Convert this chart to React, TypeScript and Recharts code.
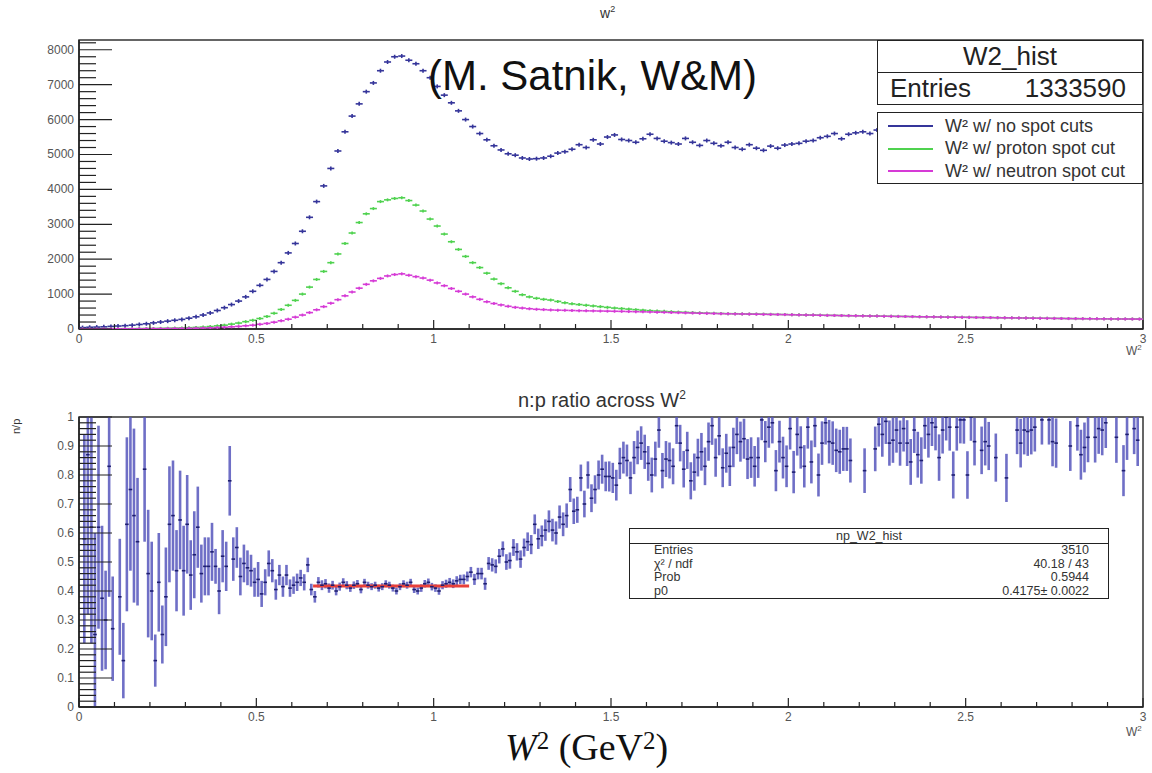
import React from "react";
import {
  ScatterChart,
  Scatter,
  XAxis,
  YAxis,
  ErrorBar,
  ReferenceArea,
  ReferenceLine,
  Legend,
} from "recharts";

// histogram bin widths (GeV^2)
const W2_BIN = 0.02;
const NP_BIN = 0.01;
const COUNT_MAX = 8280;

const SERIES_NAMES = ["W² w/ no spot cuts", "W² w/ proton spot cut", "W² w/ neutron spot cut"];

// W^2 counts, bins of 0.02 from 0 to 3
const noSpotCuts = [
  40, 50, 55, 62, 75, 85, 95, 110, 130, 150,
  175, 200, 225, 250, 275, 310, 350, 400, 460, 530,
  610, 700, 800, 920, 1080, 1250, 1420, 1650, 1900, 2180,
  2450, 2800, 3200, 3650, 4100, 4600, 5100, 5650, 6100, 6450,
  6800, 7050, 7400, 7650, 7800, 7820, 7700, 7600, 7400, 7200,
  6950, 6700, 6480, 6250, 6000, 5800, 5600, 5420, 5250, 5130,
  5020, 4980, 4900, 4870, 4880, 4900, 4950, 5040, 5080, 5150,
  5280, 5200, 5420, 5300, 5500, 5560, 5430, 5400, 5350, 5450,
  5580, 5460, 5380, 5340, 5300, 5460, 5350, 5260, 5400, 5320,
  5250, 5350, 5200, 5150, 5280, 5180, 5120, 5240, 5180, 5270,
  5300, 5320, 5380, 5400, 5480, 5520, 5600, 5450, 5580, 5620,
  5650, 5600, 5700, 5680, 5720, 5650, 5750, 5700, 5780, 5720,
  5800, 5760, 5820, 5780, 5850, 5800, 5860, 5820, 5880, 5840,
  5900, 5860, 5920, 5880, 5940, 5900, 5960, 5920, 5980, 5940,
  6000, 5960, 6020, 5980, 6040, 6000, 6060, 6020, 6080, 6050,
];

const protonSpotCut = [
  5, 5, 5, 6, 8, 8, 10, 10, 12, 14,
  15, 18, 22, 26, 30, 38, 45, 55, 70, 90,
  110, 140, 170, 210, 250, 300, 360, 450, 560, 680,
  820, 1000, 1200, 1420, 1650, 1900, 2150, 2450, 2750, 3050,
  3300, 3450, 3650, 3700, 3740, 3760, 3680, 3550, 3380, 3150,
  2950, 2720, 2500, 2280, 2080, 1900, 1760, 1600, 1430, 1300,
  1180, 1080, 980, 920, 880, 850, 830, 790, 750, 720,
  700, 680, 660, 640, 620, 600, 585, 570, 555, 540,
  525, 515, 505, 495, 485, 478, 470, 462, 455, 450,
  445, 440, 438, 432, 430, 428, 425, 420, 418, 415,
  410, 405, 402, 400, 396, 392, 390, 386, 382, 380,
  378, 375, 372, 368, 365, 362, 360, 356, 352, 350,
  348, 345, 342, 340, 337, 335, 332, 330, 328, 325,
  322, 320, 318, 316, 313, 310, 308, 305, 303, 300,
  298, 296, 295, 293, 292, 290, 289, 288, 287, 286,
];

const neutronSpotCut = [
  3, 3, 4, 4, 5, 5, 6, 6, 7, 8,
  9, 10, 12, 14, 16, 19, 22, 27, 33, 40,
  50, 62, 75, 92, 110, 135, 160, 195, 235, 280,
  340, 400, 470, 550, 640, 740, 840, 950, 1060, 1170,
  1280, 1380, 1450, 1520, 1560, 1580, 1540, 1500, 1460, 1400,
  1320, 1240, 1160, 1080, 1000, 920, 850, 780, 730, 690,
  650, 620, 600, 580, 565, 555, 545, 540, 535, 530,
  525, 520, 518, 515, 512, 508, 505, 500, 496, 492,
  488, 482, 478, 472, 468, 462, 458, 452, 448, 444,
  440, 436, 433, 430, 427, 424, 420, 418, 415, 412,
  408, 404, 400, 398, 394, 390, 388, 384, 380, 378,
  375, 372, 370, 366, 363, 360, 358, 354, 350, 348,
  346, 343, 340, 338, 335, 333, 330, 328, 326, 323,
  320, 318, 316, 314, 311, 308, 306, 303, 301, 298,
  296, 294, 293, 291, 290, 288, 287, 286, 285, 284,
];

// n:p ratio, bins of 0.01 from 0 to 3 (null = empty / off scale)
const npRatio = [
  null, 0.58, 0.87, 0.62, 0.25, 0.62, 0.375, 0.3, 0.83, 0.27,
  null, 0.38, 0.16, 0.63, 0.75, 0.66, 0.57, null, 0.82, 0.46,
  0.4, 0.16, 0.43, 0.25, 0.38, 0.63, 0.66, 0.47, 0.645, 0.47,
  0.63, 0.455, 0.525, 0.62, 0.46, 0.485, 0.485, 0.535, 0.485, 0.4,
  0.52, 0.485, 0.78, 0.51, 0.55, 0.45, 0.495, 0.48, 0.47, 0.43,
  0.44, 0.39, 0.43, 0.495, 0.47, 0.405, 0.455, 0.415, 0.455, 0.41,
  0.42, 0.43, 0.445, 0.43, 0.49, 0.405, 0.38, 0.43, 0.42, 0.425,
  0.41, 0.42, 0.4, 0.415, 0.43, 0.42, 0.41, 0.42, 0.425, 0.405,
  0.43, 0.42, 0.415, 0.42, 0.41, 0.415, 0.425, 0.42, 0.41, 0.4,
  0.415, 0.425, 0.42, 0.43, 0.405, 0.4, 0.41, 0.425, 0.43, 0.415,
  0.41, 0.4, 0.42, 0.425, 0.43, 0.425, 0.435, 0.44, 0.44, 0.45,
  0.465, 0.44, 0.46, 0.46, 0.425, 0.495, 0.49, 0.485, 0.52, 0.545,
  0.5, 0.505, 0.55, 0.535, 0.51, 0.55, 0.57, 0.56, 0.63, 0.58,
  0.59, 0.61, 0.64, 0.61, 0.6, 0.655, 0.63, 0.66, 0.75, 0.675,
  0.68, 0.79, 0.7, 0.8, 0.72, 0.75, 0.8, 0.82, 0.795, 0.795,
  0.79, 0.765, 0.84, 0.86, 0.85, 0.79, 0.86, 0.895, 0.91, 0.88,
  0.84, 0.8, 0.855, 0.955, 0.815, 0.855, 0.85, 0.83, 0.97, 0.91,
  0.82, 0.885, 0.78, 0.81, 0.86, 0.88, 0.83, 0.915, 0.97, 0.86,
  0.935, 0.825, 0.875, 0.83, 0.895, 0.94, 0.915, 0.925, 0.855, 0.86,
  0.83, 0.86, 0.99, 0.915, 0.965, 0.98, 0.815, 0.915, 0.86, 0.83,
  0.96, 0.81, 0.94, 0.895, 0.83, 0.965, 0.845, 0.97, 0.8, 0.91,
  0.98, 0.915, 0.91, 0.885, 0.88, 0.89, 0.89, 0.85, null, null,
  null, 0.815, null, null, 0.89, 0.975, 0.94, 0.985, 0.91, 0.92,
  0.955, 0.91, 0.96, 0.91, 0.845, 0.955, 0.87, 0.85, 0.97, 0.94,
  0.98, 0.965, 0.86, 0.955, 1.0, 0.965, 0.8, 0.965, 0.99, 0.99,
  0.8, 1.0, 0.915, null, 0.885, 0.915, 0.9, null, 0.86, null,
  null, 0.79, null, null, 0.955, 0.91, 0.955, 0.95, 0.955, 0.965,
  null, 0.99, null, 0.99, 0.915, 0.91, null, null, null, 0.9,
  null, 0.97, 0.87, 0.895, 0.93, null, 0.93, 0.96, 0.955, 0.98,
  null, null, 0.93, null, 0.815, 0.94, null, 0.96, 0.92, null,
];

const npError = [
  null, 0.36, 0.55, 0.4, 0.35, 0.35, 0.25, 0.17, 0.45, 0.18,
  null, 0.2, 0.13, 0.3, 0.28, 0.3, 0.22, null, 0.25, 0.22,
  0.17, 0.09, 0.17, 0.1, 0.17, 0.2, 0.19, 0.14, 0.17, 0.155,
  0.17, 0.12, 0.15, 0.14, 0.1, 0.1, 0.1, 0.1, 0.06, 0.08,
  0.09, 0.085, 0.12, 0.075, 0.07, 0.065, 0.065, 0.06, 0.055, 0.05,
  0.06, 0.045, 0.045, 0.045, 0.04, 0.035, 0.035, 0.035, 0.035, 0.03,
  0.03, 0.03, 0.028, 0.028, 0.025, 0.02, 0.02, 0.018, 0.017, 0.016,
  0.016, 0.015, 0.015, 0.014, 0.014, 0.014, 0.013, 0.013, 0.013, 0.013,
  0.012, 0.012, 0.012, 0.012, 0.012, 0.012, 0.012, 0.012, 0.012, 0.012,
  0.012, 0.012, 0.012, 0.012, 0.012, 0.012, 0.013, 0.013, 0.013, 0.013,
  0.013, 0.013, 0.014, 0.014, 0.015, 0.015, 0.016, 0.016, 0.017, 0.017,
  0.018, 0.019, 0.02, 0.02, 0.021, 0.022, 0.023, 0.024, 0.025, 0.026,
  0.027, 0.028, 0.029, 0.03, 0.03, 0.031, 0.032, 0.033, 0.034, 0.035,
  0.036, 0.037, 0.038, 0.039, 0.04, 0.04, 0.041, 0.042, 0.043, 0.044,
  0.045, 0.046, 0.046, 0.047, 0.048, 0.049, 0.05, 0.05, 0.051, 0.052,
  0.052, 0.053, 0.054, 0.055, 0.055, 0.056, 0.057, 0.058, 0.058, 0.059,
  0.06, 0.06, 0.06, 0.061, 0.061, 0.062, 0.062, 0.062, 0.063, 0.063,
  0.063, 0.064, 0.064, 0.064, 0.065, 0.065, 0.065, 0.066, 0.066, 0.066,
  0.067, 0.067, 0.067, 0.068, 0.068, 0.068, 0.069, 0.069, 0.069, 0.07,
  0.07, 0.07, 0.07, 0.071, 0.071, 0.071, 0.071, 0.072, 0.072, 0.072,
  0.072, 0.073, 0.073, 0.073, 0.073, 0.074, 0.074, 0.074, 0.074, 0.075,
  0.075, 0.075, 0.075, 0.075, 0.076, 0.076, 0.076, 0.076, null, null,
  null, 0.077, null, null, 0.077, 0.077, 0.077, 0.078, 0.078, 0.078,
  0.078, 0.078, 0.079, 0.079, 0.079, 0.079, 0.079, 0.08, 0.08, 0.08,
  0.08, 0.08, 0.08, 0.081, 0.081, 0.081, 0.081, 0.081, 0.081, 0.082,
  0.082, 0.082, 0.082, null, 0.082, 0.082, 0.083, null, 0.083, null,
  null, 0.083, null, null, 0.083, 0.084, 0.084, 0.084, 0.084, 0.084,
  null, 0.085, null, 0.085, 0.085, 0.085, null, null, null, 0.086,
  null, 0.086, 0.086, 0.086, 0.086, null, 0.087, 0.087, 0.087, 0.087,
  null, null, 0.088, null, 0.088, 0.088, null, 0.088, 0.089, null,
];

const FIT_P0 = 0.4175;
const FIT_RANGE = [0.66, 1.1];

const X_LABELS = [0, 0.5, 1, 1.5, 2, 2.5, 3];
const COUNT_LABELS = [0, 1000, 2000, 3000, 4000, 5000, 6000, 7000, 8000];
const RATIO_LABELS = [0, 0.1, 0.2, 0.3, 0.4, 0.5, 0.6, 0.7, 0.8, 0.9, 1];

const stepTicks = (from: number, to: number, step: number) => {
  const out: number[] = [];
  for (let i = 0; from + i * step <= to + 1e-9; i++) out.push(+(from + i * step).toFixed(4));
  return out;
};
const xTicks = stepTicks(0, 3, 0.1);
const countTicks = stepTicks(0, 8200, 200);
const ratioTicks = stepTicks(0, 1, 0.02);

const isLabel = (labels: number[], v: number) => labels.some((l) => Math.abs(l - v) < 1e-6);

const histRows = (vals: number[], bin: number) =>
  vals.map((y, i) => ({ x: +((i + 0.5) * bin).toFixed(4), y }));

// error bars are cut at the frame, like ROOT does
const npRows = npRatio
  .map((y, i) => ({ x: +((i + 0.5) * NP_BIN).toFixed(4), y, err: npError[i] }))
  .filter((d) => d.y !== null && d.err !== null)
  .map((d) => ({
    ...d,
    errRange: [Math.min(d.err as number, d.y as number), Math.min(d.err as number, 1 - (d.y as number))],
  }));

const SANS = "'Liberation Sans', Arial, sans-serif";
const BLUE = "#35359a";
const GREEN = "#4fd24f";
const MAGENTA = "#d63ad6";

function XTick(props: any) {
  const { x, y, payload } = props;
  const major = isLabel(X_LABELS, payload.value);
  return (
    <g>
      <line x1={x} x2={x} y1={y} y2={y - (major ? 9 : 5)} stroke="#222" strokeWidth={1.2} />
      {major && (
        <text x={x} y={y + 14} textAnchor="middle" fontSize={12} fill="#555" fontFamily={SANS}>
          {payload.value}
        </text>
      )}
    </g>
  );
}

const makeYTick = (labels: number[]) => (props: any) => {
  const { x, y, payload } = props;
  const major = isLabel(labels, payload.value);
  return (
    <g>
      <line x1={x} x2={x + (major ? 33 : 17)} y1={y} y2={y} stroke="#222" strokeWidth={1.2} />
      {major && (
        <text x={x - 5} y={y + 4} textAnchor="end" fontSize={12} fill="#555" fontFamily={SANS}>
          {payload.value}
        </text>
      )}
    </g>
  );
};

const crossShape = (color: string, half: number, vert: number) => (p: any) => (
  <g>
    <line x1={p.cx - half} x2={p.cx + half} y1={p.cy} y2={p.cy} stroke={color} strokeWidth={1.6} />
    {vert > 0 && (
      <line x1={p.cx} x2={p.cx} y1={p.cy - vert} y2={p.cy + vert} stroke={color} strokeWidth={1.6} />
    )}
  </g>
);

const LegendBox = (props: any) => (
  <div
    style={{
      width: 266,
      height: 72,
      boxSizing: "border-box",
      border: "1.5px solid #222",
      background: "#fff",
      paddingTop: 2,
      fontFamily: SANS,
    }}
  >
    {(props.payload || []).map((e: any) => (
      <div key={e.value} style={{ display: "flex", alignItems: "center", height: 22.5 }}>
        <span
          style={{
            display: "inline-block",
            width: 45,
            borderTop: `2px solid ${e.color}`,
            marginLeft: 10,
            marginRight: 12,
          }}
        />
        <span style={{ fontSize: 18, color: "#333", whiteSpace: "nowrap" }}>{e.value}</span>
      </div>
    ))}
  </div>
);

const abs = (left: number, top: number, extra: React.CSSProperties = {}): React.CSSProperties => ({
  position: "absolute",
  left,
  top,
  whiteSpace: "nowrap",
  ...extra,
});

const serifSup: React.CSSProperties = { fontSize: 25, lineHeight: 0, verticalAlign: "11px" };

export default function App() {
  return (
    <div
      style={{
        position: "absolute",
        left: 0,
        top: 0,
        width: 1152,
        height: 773,
        background: "#fff",
        fontFamily: SANS,
        overflow: "hidden",
      }}
    >
      <div style={abs(600, 4, { fontSize: 14, color: "#333" })}>
        w<sup style={{ fontSize: 9 }}>2</sup>
      </div>

      <div style={{ position: "absolute", left: 0, top: 0 }}>
        <ScatterChart width={1152} height={370} margin={{ top: 40, right: 9, bottom: 11, left: 0 }}>
          <XAxis
            type="number"
            dataKey="x"
            domain={[0, 3]}
            ticks={xTicks}
            interval={0}
            height={30}
            tickLine={false}
            tickSize={0}
            tickMargin={0}
            axisLine={{ stroke: "#222", strokeWidth: 1.5 }}
            tick={XTick}
            allowDataOverflow
          />
          <YAxis
            type="number"
            dataKey="y"
            domain={[0, COUNT_MAX]}
            ticks={countTicks}
            interval={0}
            width={79}
            tickLine={false}
            tickSize={0}
            tickMargin={0}
            axisLine={{ stroke: "#222", strokeWidth: 1.5 }}
            tick={makeYTick(COUNT_LABELS)}
            allowDataOverflow
          />
          <ReferenceArea x1={0} x2={3} y1={0} y2={COUNT_MAX} fill="none" stroke="#333" strokeWidth={1.5} />
          <Scatter
            name={SERIES_NAMES[0]}
            data={histRows(noSpotCuts, W2_BIN)}
            fill={BLUE}
            stroke={BLUE}
            legendType="line"
            shape={crossShape(BLUE, 3.5, 2)}
            isAnimationActive={false}
          />
          <Scatter
            name={SERIES_NAMES[1]}
            data={histRows(protonSpotCut, W2_BIN)}
            fill={GREEN}
            stroke={GREEN}
            legendType="line"
            shape={crossShape(GREEN, 3.5, 1.5)}
            isAnimationActive={false}
          />
          <Scatter
            name={SERIES_NAMES[2]}
            data={histRows(neutronSpotCut, W2_BIN)}
            fill={MAGENTA}
            stroke={MAGENTA}
            legendType="line"
            shape={crossShape(MAGENTA, 3.5, 1.5)}
            isAnimationActive={false}
          />
          <Legend
            layout="vertical"
            align="center"
            verticalAlign="middle"
            itemSorter={(item: any) => SERIES_NAMES.indexOf(item.value)}
            content={LegendBox}
            wrapperStyle={{ position: "absolute", left: 877, top: 112, width: 266, height: 72 }}
          />
        </ScatterChart>
      </div>

      <div
        style={abs(877, 40, {
          width: 266,
          height: 65,
          boxSizing: "border-box",
          border: "1.5px solid #222",
          background: "#fff",
          color: "#222",
        })}
      >
        <div
          style={{
            height: 31,
            borderBottom: "1.5px solid #222",
            textAlign: "center",
            fontSize: 26,
            lineHeight: "31px",
          }}
        >
          W2_hist
        </div>
        <div
          style={{
            display: "flex",
            justifyContent: "space-between",
            padding: "0 16px 0 12px",
            fontSize: 26,
            lineHeight: "31px",
          }}
        >
          <span>Entries</span>
          <span>1333590</span>
        </div>
      </div>

      <div style={abs(428, 52, { fontSize: 42, lineHeight: "48px", color: "#111" })}>
        (M. Satnik, W&amp;M)
      </div>

      <div style={abs(1126, 343, { fontSize: 12, color: "#555" })}>
        W<sup style={{ fontSize: 8 }}>2</sup>
      </div>

      <div style={abs(518, 383, { fontSize: 20, lineHeight: "24px", color: "#333" })}>
        n:p ratio across W<sup style={{ fontSize: 12 }}>2</sup>
      </div>

      <div
        style={abs(10, 434, {
          fontSize: 11,
          color: "#333",
          transform: "rotate(-90deg)",
          transformOrigin: "left top",
        })}
      >
        n/p
      </div>

      <div style={{ position: "absolute", left: 0, top: 380 }}>
        <ScatterChart width={1152} height={370} margin={{ top: 37, right: 9, bottom: 13, left: 0 }}>
          <XAxis
            type="number"
            dataKey="x"
            domain={[0, 3]}
            ticks={xTicks}
            interval={0}
            height={30}
            tickLine={false}
            tickSize={0}
            tickMargin={0}
            axisLine={{ stroke: "#222", strokeWidth: 1.5 }}
            tick={XTick}
            allowDataOverflow
          />
          <YAxis
            type="number"
            dataKey="y"
            domain={[0, 1]}
            ticks={ratioTicks}
            interval={0}
            width={79}
            tickLine={false}
            tickSize={0}
            tickMargin={0}
            axisLine={{ stroke: "#222", strokeWidth: 1.5 }}
            tick={makeYTick(RATIO_LABELS)}
            allowDataOverflow
          />
          <ReferenceArea x1={0} x2={3} y1={0} y2={1} fill="none" stroke="#333" strokeWidth={1.5} />
          <Scatter
            name="n:p ratio"
            data={npRows}
            fill="#1e1e70"
            shape={crossShape("#1e1e70", 1.8, 0)}
            isAnimationActive={false}
          >
            <ErrorBar
              dataKey="errRange"
              direction="y"
              width={0}
              stroke="#5656bc"
              strokeWidth={2.6}
              strokeOpacity={0.85}
            />
          </Scatter>
          <ReferenceLine
            segment={[
              { x: FIT_RANGE[0], y: FIT_P0 },
              { x: FIT_RANGE[1], y: FIT_P0 },
            ]}
            stroke="#e8403a"
            strokeWidth={3}
          />
        </ScatterChart>
      </div>

      <div
        style={abs(629, 528, {
          width: 480,
          height: 71,
          boxSizing: "border-box",
          border: "1.5px solid #222",
          background: "#fff",
          color: "#333",
          fontSize: 12.5,
        })}
      >
        <div style={{ height: 14, borderBottom: "1.5px solid #222", textAlign: "center", lineHeight: "14px" }}>
          np_W2_hist
        </div>
        {[
          ["Entries", "3510"],
          ["χ² / ndf", "40.18 / 43"],
          ["Prob", "0.5944"],
          ["p0", "0.4175± 0.0022"],
        ].map(([k, v]) => (
          <div
            key={k}
            style={{
              display: "flex",
              justifyContent: "space-between",
              padding: "0 19px 0 24px",
              height: 13.5,
              lineHeight: "13.5px",
            }}
          >
            <span>{k}</span>
            <span>{v}</span>
          </div>
        ))}
      </div>

      <div style={abs(1126, 724, { fontSize: 12, color: "#555" })}>
        W<sup style={{ fontSize: 8 }}>2</sup>
      </div>

      <div
        style={abs(505, 727, {
          fontFamily: "'Liberation Serif', 'Times New Roman', serif",
          fontSize: 38,
          lineHeight: "40px",
          color: "#111",
        })}
      >
        <i>W</i>
        <span style={serifSup}>2</span> (GeV<span style={serifSup}>2</span>)
      </div>
    </div>
  );
}
